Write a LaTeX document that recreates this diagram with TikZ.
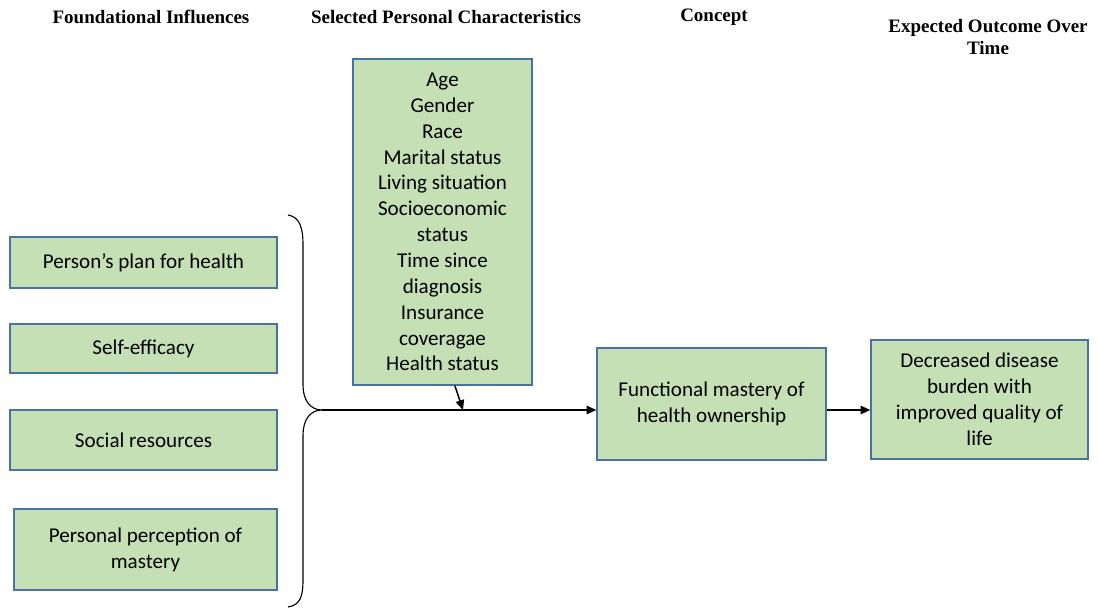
\documentclass[tikz,border=0pt]{standalone}
\usepackage{fontspec}
\setmainfont{Carlito}
\newfontfamily\headfont{Liberation Serif}
\usetikzlibrary{positioning,arrows.meta}

\definecolor{boxgreen}{RGB}{197,224,180}
\definecolor{boxblue}{RGB}{72,115,160}

\tikzset{
  factor/.style={draw=boxblue, fill=boxgreen, line width=0.9pt, align=center,
    font=\fontsize{15}{18.4}\selectfont, inner sep=3pt},
  heading/.style={font=\headfont\bfseries\fontsize{13.5}{15.6}\selectfont, align=center},
  link/.style={-{Triangle[length=7pt,width=6pt]}, line width=1.1pt},
  bracket/.style={line width=0.8pt}
}

\begin{document}
\begin{tikzpicture}[x=0.025cm, y=-0.025cm]
    \useasboundingbox (0,0) rectangle (1098,609);

    % column headings
    \node[heading] (hfound) at (151,17) {Foundational Influences};
    \node[heading] (hchar) at (446,17) {Selected Personal Characteristics};
    \node[heading] (hconc) at (714,17) {Concept};
    \node[heading] (hout) at (988,37) {Expected Outcome Over\\Time};

    % foundational influences
    \node[factor, minimum width=6.675cm, minimum height=1.275cm] (plan) at (143.5,262.5) {Person’s plan for health};
    \node[factor, minimum width=6.675cm, minimum height=1.225cm] (efficacy) at (143.5,348.5) {Self-efficacy};
    \node[factor, minimum width=6.675cm, minimum height=1.5cm] (social) at (143.5,440) {Social resources};
    \node[factor, minimum width=6.575cm, minimum height=2.025cm] (perception) at (145.5,549.5) {Personal perception of\\mastery};

    % personal characteristics
    \node[factor, minimum width=4.475cm, minimum height=8.15cm] (chars) at (442.5,222)
        {Age\\Gender\\Race\\Marital status\\Living situation\\Socioeconomic\\status\\Time since\\diagnosis\\Insurance\\coveragae\\Health status};

    % concept and outcome
    \node[factor, minimum width=5.725cm, minimum height=2.8cm] (mastery) at (711.5,404) {Functional mastery of\\health ownership};
    \node[factor, minimum width=5.425cm, minimum height=2.975cm] (outcome) at (979.5,399.5) {Decreased disease\\burden with\\improved quality of\\life};

    % brace round the influences
    \coordinate (tip) at (322,410);
    \coordinate (join) at (463,410);
    \draw[bracket] (288,215) .. controls (300,217) and (303,228) .. (303,245) -- (303,385)
        .. controls (303,400) and (310,410) .. (tip)
        .. controls (310,410) and (303,420) .. (303,435) -- (303,580)
        .. controls (303,597) and (300,605) .. (288,607);

    \draw[link] (tip) -- (tip -| mastery.west);
    \draw[link] ([xshift=0.31cm]chars.south) -- (join);
    \draw[link] (mastery.east |- tip) -- (outcome.west |- tip);
\end{tikzpicture}
\end{document}
